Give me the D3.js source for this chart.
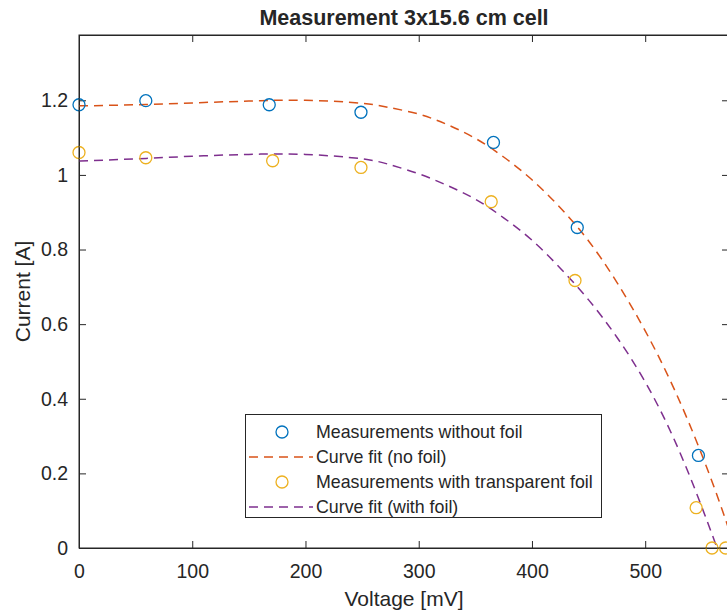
<!DOCTYPE html>
<html>
<head>
<meta charset="utf-8">
<script src="https://cdn.jsdelivr.net/npm/d3@7"></script>
<style>
body { margin: 0; background: #fff; }
text { font-family: "Liberation Sans", Arial, sans-serif; fill: #262626; }
.axis path, .axis line { stroke: #262626; }
</style>
</head>
<body>
<script>
//measured points
var measVoltage = [0, 59, 168, 249, 366, 440, 547];
var measCurrent = [1.188, 1.199, 1.188, 1.168, 1.087, 0.859, 0.248];
var foilVoltage = [0, 59, 171, 249, 364, 438, 545, 559, 571];
var foilCurrent = [1.06, 1.046, 1.038, 1.02, 0.928, 0.717, 0.108, 0, 0];

//curve fits
var fitVoltage = [0, 50, 100, 150, 200, 250, 275, 300, 325, 350, 375, 400, 425, 450, 475, 500, 525, 550, 575, 600];
var fitNoFoil = [1.185, 1.188, 1.193, 1.198, 1.2, 1.192, 1.18, 1.163, 1.135, 1.098, 1.048, 0.987, 0.912, 0.823, 0.712, 0.582, 0.43, 0.25, 0.04, -0.2];
var fitFoil = [1.037, 1.043, 1.05, 1.055, 1.055, 1.043, 1.027, 1.003, 0.972, 0.935, 0.885, 0.825, 0.75, 0.665, 0.565, 0.445, 0.295, 0.11, -0.1, -0.33];

var xTicks = [0, 100, 200, 300, 400, 500];
var yTicks = [0, 0.2, 0.4, 0.6, 0.8, 1, 1.2];

var legendLabels = ["Measurements without foil", "Curve fit (no foil)",
    "Measurements with transparent foil", "Curve fit (with foil)"];

(function(){

var blue = "#0072BD", orange = "#D95319", yellow = "#EDB120", purple = "#7E2F8E";

//plot frame, right edge sits just past the window like the cropped original
var width = 727, height = 614,
    plotLeft = 79, plotTop = 35, plotRight = 729, plotBottom = 548;

var svg = d3.select("body").append("svg")
    .attr("width", width)
    .attr("height", height);

var x = d3.scaleLinear().domain([0, 574]).range([plotLeft, plotRight]);
var y = d3.scaleLinear().domain([0, 1.375]).range([plotBottom, plotTop]);

svg.append("clipPath").attr("id", "plotClip")
    .append("rect")
    .attr("x", plotLeft).attr("y", plotTop)
    .attr("width", plotRight - plotLeft).attr("height", plotBottom - plotTop);

//axes, ticks point inward like matlab
var tickLen = 7;
svg.append("g").attr("class", "axis")
    .attr("transform", "translate(0," + plotBottom + ")")
    .call(d3.axisBottom(x).tickValues(xTicks).tickSizeInner(-tickLen).tickSizeOuter(0).tickPadding(16));
svg.append("g").attr("class", "axis")
    .attr("transform", "translate(0," + plotTop + ")")
    .call(d3.axisTop(x).tickValues(xTicks).tickSizeInner(-tickLen).tickSizeOuter(0).tickFormat(""));
svg.append("g").attr("class", "axis")
    .attr("transform", "translate(" + plotLeft + ",0)")
    .call(d3.axisLeft(y).tickValues(yTicks).tickFormat(d3.format("~g"))
        .tickSizeInner(-tickLen).tickSizeOuter(0).tickPadding(11));
svg.append("g").attr("class", "axis")
    .attr("transform", "translate(" + plotRight + ",0)")
    .call(d3.axisRight(y).tickValues(yTicks).tickSizeInner(-tickLen).tickSizeOuter(0).tickFormat(""));

svg.selectAll(".axis text")
    .style("font-size", "19.5px")
    .style("font-family", "'Liberation Sans', Arial, sans-serif")
    .attr("fill", "#262626");

//fit curves
var fitLine = function(vals){
    return d3.line()
        .x(function(d, i){ return x(fitVoltage[i]); })
        .y(function(d){ return y(d); })
        .curve(d3.curveNatural)(vals);
};

svg.append("path")
    .attr("d", fitLine(fitNoFoil))
    .attr("clip-path", "url(#plotClip)")
    .attr("fill", "none")
    .attr("stroke", orange)
    .attr("stroke-width", 1.5)
    .attr("stroke-dasharray", "9,6");

svg.append("path")
    .attr("d", fitLine(fitFoil))
    .attr("clip-path", "url(#plotClip)")
    .attr("fill", "none")
    .attr("stroke", purple)
    .attr("stroke-width", 1.5)
    .attr("stroke-dasharray", "9,6");

//measurement markers
svg.selectAll(".meas")
    .data(measVoltage)
    .enter()
    .append("circle")
    .attr("class", "meas")
    .attr("cx", function(d){ return x(d); })
    .attr("cy", function(d, i){ return y(measCurrent[i]); })
    .attr("r", 6)
    .attr("fill", "none")
    .attr("stroke", blue)
    .attr("stroke-width", 1.3);

svg.selectAll(".foil")
    .data(foilVoltage)
    .enter()
    .append("circle")
    .attr("class", "foil")
    .attr("cx", function(d){ return x(d); })
    .attr("cy", function(d, i){ return y(foilCurrent[i]); })
    .attr("r", 6)
    .attr("fill", "none")
    .attr("stroke", yellow)
    .attr("stroke-width", 1.3);

//frame lines
svg.append("rect")
    .attr("x", plotLeft).attr("y", plotTop)
    .attr("width", plotRight - plotLeft).attr("height", plotBottom - plotTop)
    .attr("fill", "none")
    .attr("stroke", "#262626")
    .attr("stroke-width", 1);

//title and labels
svg.append("text")
    .attr("x", (plotLeft + plotRight) / 2)
    .attr("y", 25)
    .attr("text-anchor", "middle")
    .style("font-size", "21.5px")
    .style("font-weight", "bold")
    .attr("fill", "#000")
    .text("Measurement 3x15.6 cm cell");

svg.append("text")
    .attr("x", (plotLeft + plotRight) / 2)
    .attr("y", 606)
    .attr("text-anchor", "middle")
    .style("font-size", "21px")
    .text("Voltage [mV]");

svg.append("text")
    .attr("transform", "translate(30," + (plotTop + plotBottom) / 2 + ") rotate(-90)")
    .attr("text-anchor", "middle")
    .style("font-size", "21px")
    .text("Current [A]");

//legend
var legend = svg.append("g");
legend.append("rect")
    .attr("x", 245.5).attr("y", 414.5)
    .attr("width", 356).attr("height", 103)
    .attr("fill", "#fff")
    .attr("stroke", "#262626")
    .attr("stroke-width", 1);

var legendKinds = ["circle", "line", "circle", "line"];
var legendColors = [blue, orange, yellow, purple];

legendLabels.forEach(function(label, i){
    var cy = 432 + i * 25;
    if (legendKinds[i] == "circle"){
        legend.append("circle")
            .attr("cx", 282).attr("cy", cy).attr("r", 6)
            .attr("fill", "none")
            .attr("stroke", legendColors[i])
            .attr("stroke-width", 1.3);
    } else {
        legend.append("line")
            .attr("x1", 249).attr("x2", 313)
            .attr("y1", cy).attr("y2", cy)
            .attr("stroke", legendColors[i])
            .attr("stroke-width", 1.5)
            .attr("stroke-dasharray", "9,6");
    }
    legend.append("text")
        .attr("x", 316)
        .attr("y", cy + 6)
        .style("font-size", "17.8px")
        .text(label);
});

})();
</script>
</body>
</html>
